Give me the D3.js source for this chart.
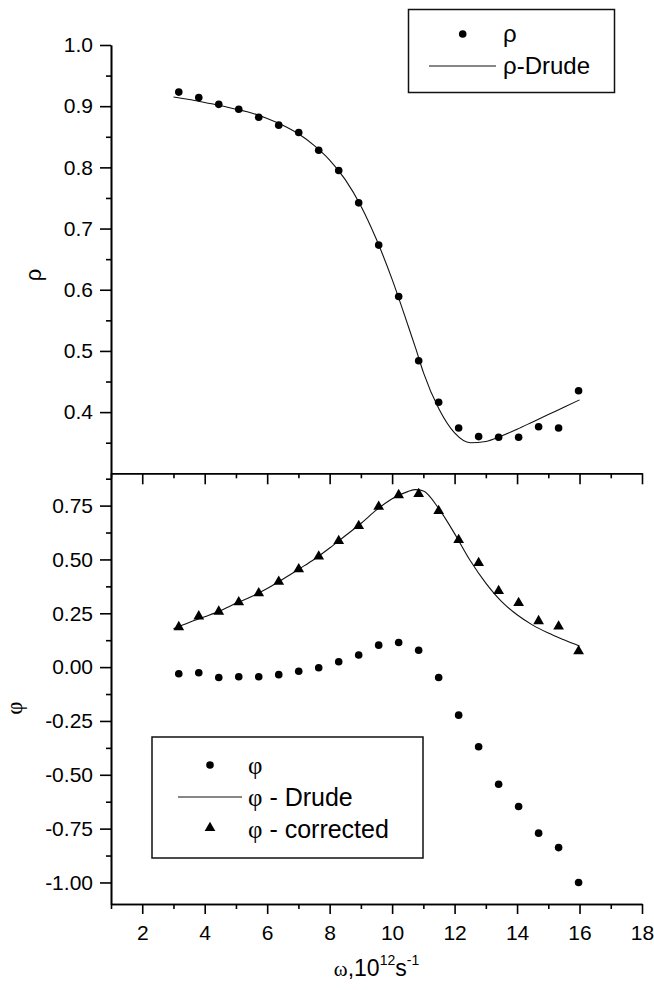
<!DOCTYPE html>
<html>
<head>
<meta charset="utf-8">
<script src="https://cdn.jsdelivr.net/npm/d3@7"></script>
<style>
  body { margin: 0; background: #fff; }
  .axis path, .axis line { stroke: #000; stroke-width: 1.6; }
  .axis text { font-family: "Liberation Sans", Arial, sans-serif; font-size: 21px; fill: #000; }
</style>
</head>
<body>
<div id="chart"></div>
<script>
// measured points (omega in 10^12 s^-1)
const omega = [3.17, 3.81, 4.45, 5.09, 5.73, 6.37, 7.01, 7.65, 8.29, 8.93, 9.57,
               10.21, 10.85, 11.49, 12.13, 12.77, 13.41, 14.05, 14.69, 15.33, 15.97];
const rho = [0.923, 0.914, 0.903, 0.895, 0.882, 0.869, 0.857, 0.828, 0.795, 0.742, 0.673,
             0.589, 0.484, 0.416, 0.374, 0.360, 0.359, 0.359, 0.376, 0.374, 0.435];
const phi = [-0.031, -0.026, -0.048, -0.045, -0.045, -0.035, -0.019, -0.003, 0.025, 0.056, 0.102,
             0.114, 0.078, -0.048, -0.223, -0.370, -0.544, -0.647, -0.771, -0.838, -1.000];
const phiCorrected = [0.186, 0.236, 0.258, 0.302, 0.343, 0.397, 0.455, 0.514, 0.586, 0.656, 0.745,
                      0.799, 0.804, 0.725, 0.591, 0.484, 0.354, 0.298, 0.214, 0.189, 0.074];

// Drude fits
const drudeW = [3, 3.5, 4, 4.5, 5, 5.5, 6, 6.5, 7, 7.5, 8, 8.5, 9, 9.5, 10, 10.5, 10.75,
                11, 11.5, 12, 12.5, 13, 13.5, 14, 14.5, 15, 15.5, 16];
const rhoDrude = [0.915, 0.911, 0.906, 0.901, 0.895, 0.889, 0.880, 0.869, 0.855, 0.836, 0.812,
                  0.780, 0.737, 0.682, 0.617, 0.543, 0.505, 0.465, 0.405, 0.366, 0.350, 0.352,
                  0.361, 0.372, 0.384, 0.396, 0.408, 0.420];
const phiDrude = [0.178, 0.207, 0.234, 0.262, 0.296, 0.328, 0.365, 0.408, 0.454, 0.500, 0.553,
                  0.610, 0.667, 0.730, 0.782, 0.815, 0.824, 0.818, 0.735, 0.620, 0.495, 0.390,
                  0.305, 0.243, 0.195, 0.158, 0.127, 0.098];

const xMajor = [2, 4, 6, 8, 10, 12, 14, 16, 18];
const xMinor = [1, 3, 5, 7, 9, 11, 13, 15, 17];
const rhoMajor = [0.4, 0.5, 0.6, 0.7, 0.8, 0.9, 1.0];
const rhoMinor = [0.35, 0.45, 0.55, 0.65, 0.75, 0.85, 0.95];
const phiMajor = [-1.0, -0.75, -0.5, -0.25, 0, 0.25, 0.5, 0.75];
const phiMinor = [-0.875, -0.625, -0.375, -0.125, 0.125, 0.375, 0.625, 0.875];

const w = 654, h = 990;
const sans = '"Liberation Sans", Arial, sans-serif';
const serif = '"Liberation Serif", "DejaVu Serif", serif';

const svg = d3.select('#chart').append('svg')
  .attr('width', w).attr('height', h);

const x = d3.scaleLinear().domain([1, 18]).range([111, 642]);
const yTop = d3.scaleLinear().domain([0.3, 1.0]).range([473.3, 45]);
const yBot = d3.scaleLinear().domain([-1.1, 0.9]).range([904, 473.3]);

const addAxis = (axis, tx, ty) => svg.append('g').attr('class', 'axis')
  .attr('transform', 'translate(' + tx + ',' + ty + ')').call(axis);

// top panel axes
addAxis(d3.axisLeft(yTop).tickValues(rhoMajor).tickFormat(d => d.toFixed(1))
  .tickSize(11).tickPadding(7).tickSizeOuter(0), 111, 0);
addAxis(d3.axisLeft(yTop).tickValues(rhoMinor).tickFormat('').tickSize(5).tickSizeOuter(0), 111, 0);
addAxis(d3.axisBottom(x).tickValues(xMajor).tickFormat('').tickSize(11).tickSizeOuter(0), 0, 473.3);
addAxis(d3.axisBottom(x).tickValues(xMinor).tickFormat('').tickSize(5).tickSizeOuter(0), 0, 473.3);

// bottom panel axes
addAxis(d3.axisLeft(yBot).tickValues(phiMajor).tickFormat(d => d.toFixed(2))
  .tickSize(11).tickPadding(7).tickSizeOuter(0), 111, 0);
addAxis(d3.axisLeft(yBot).tickValues(phiMinor).tickFormat('').tickSize(5).tickSizeOuter(0), 111, 0);
addAxis(d3.axisBottom(x).tickValues(xMajor).tickFormat(d => d).tickSize(10).tickPadding(11).tickSizeOuter(0), 0, 904);
addAxis(d3.axisBottom(x).tickValues(xMinor).tickFormat('').tickSize(5).tickSizeOuter(0), 0, 904);

// curves
const lineTop = d3.line().x((d, i) => x(drudeW[i])).y(d => yTop(d)).curve(d3.curveMonotoneX);
const lineBot = d3.line().x((d, i) => x(drudeW[i])).y(d => yBot(d)).curve(d3.curveMonotoneX);
svg.append('path').attr('d', lineTop(rhoDrude)).attr('fill', 'none').attr('stroke', '#111').attr('stroke-width', 1.1);
svg.append('path').attr('d', lineBot(phiDrude)).attr('fill', 'none').attr('stroke', '#111').attr('stroke-width', 1.1);

// markers
svg.selectAll('circle.rho').data(rho).enter().append('circle').attr('class', 'rho')
  .attr('cx', (d, i) => x(omega[i])).attr('cy', d => yTop(d)).attr('r', 3.8).attr('fill', '#000');
svg.selectAll('circle.phi').data(phi).enter().append('circle').attr('class', 'phi')
  .attr('cx', (d, i) => x(omega[i])).attr('cy', d => yBot(d)).attr('r', 3.8).attr('fill', '#000');
const tri = d3.symbol().type(d3.symbolTriangle).size(50);
svg.selectAll('path.tri').data(phiCorrected).enter().append('path').attr('class', 'tri')
  .attr('d', tri).attr('fill', '#000')
  .attr('transform', (d, i) => 'translate(' + x(omega[i]) + ',' + yBot(d) + ')');

// axis titles
svg.append('text').attr('transform', 'translate(41,275)rotate(-90)')
  .attr('text-anchor', 'middle').attr('font-family', sans).attr('font-size', 22).text('ρ');
svg.append('text').attr('transform', 'translate(22,708)rotate(-90)')
  .attr('text-anchor', 'middle').attr('font-family', serif).attr('font-size', 23).text('φ');

const xt = svg.append('text').attr('x', 376.5).attr('y', 976).attr('text-anchor', 'middle')
  .attr('font-family', sans).attr('font-size', 23);
xt.append('tspan').attr('font-family', serif).attr('font-size', 21).text('ω');
xt.append('tspan').text(',10');
xt.append('tspan').attr('font-size', 14).attr('dy', -11).text('12');
xt.append('tspan').attr('dy', 11).text('s');
xt.append('tspan').attr('font-size', 14).attr('dy', -11).text('-1');

// top legend
svg.append('rect').attr('x', 408.5).attr('y', 9.5).attr('width', 206).attr('height', 83)
  .attr('fill', 'none').attr('stroke', '#111').attr('stroke-width', 1.5);
svg.append('circle').attr('cx', 462.7).attr('cy', 34).attr('r', 3.8).attr('fill', '#000');
svg.append('line').attr('x1', 429).attr('x2', 496).attr('y1', 66).attr('y2', 66)
  .attr('stroke', '#111').attr('stroke-width', 1.1);
svg.append('text').attr('x', 503).attr('y', 34).attr('dy', '0.35em')
  .attr('font-family', sans).attr('font-size', 24).text('ρ');
svg.append('text').attr('x', 503).attr('y', 66).attr('dy', '0.35em')
  .attr('font-family', sans).attr('font-size', 24).text('ρ-Drude');

// bottom legend
svg.append('rect').attr('x', 152).attr('y', 737).attr('width', 271).attr('height', 121)
  .attr('fill', 'none').attr('stroke', '#111').attr('stroke-width', 1.5);
svg.append('circle').attr('cx', 210).attr('cy', 765).attr('r', 3.8).attr('fill', '#000');
svg.append('line').attr('x1', 178).attr('x2', 242).attr('y1', 797).attr('y2', 797)
  .attr('stroke', '#111').attr('stroke-width', 1.1);
svg.append('path').attr('d', tri).attr('fill', '#000').attr('transform', 'translate(210,828)');
const legRows = [['', 765], [' - Drude', 797], [' - corrected', 829]];
legRows.forEach(r => {
  const t = svg.append('text').attr('x', 248).attr('y', r[1]).attr('dy', '0.35em')
    .attr('font-family', sans).attr('font-size', 25);
  t.append('tspan').attr('font-family', serif).attr('font-size', 25).text('φ');
  t.append('tspan').text(r[0]);
});
</script>
</body>
</html>
